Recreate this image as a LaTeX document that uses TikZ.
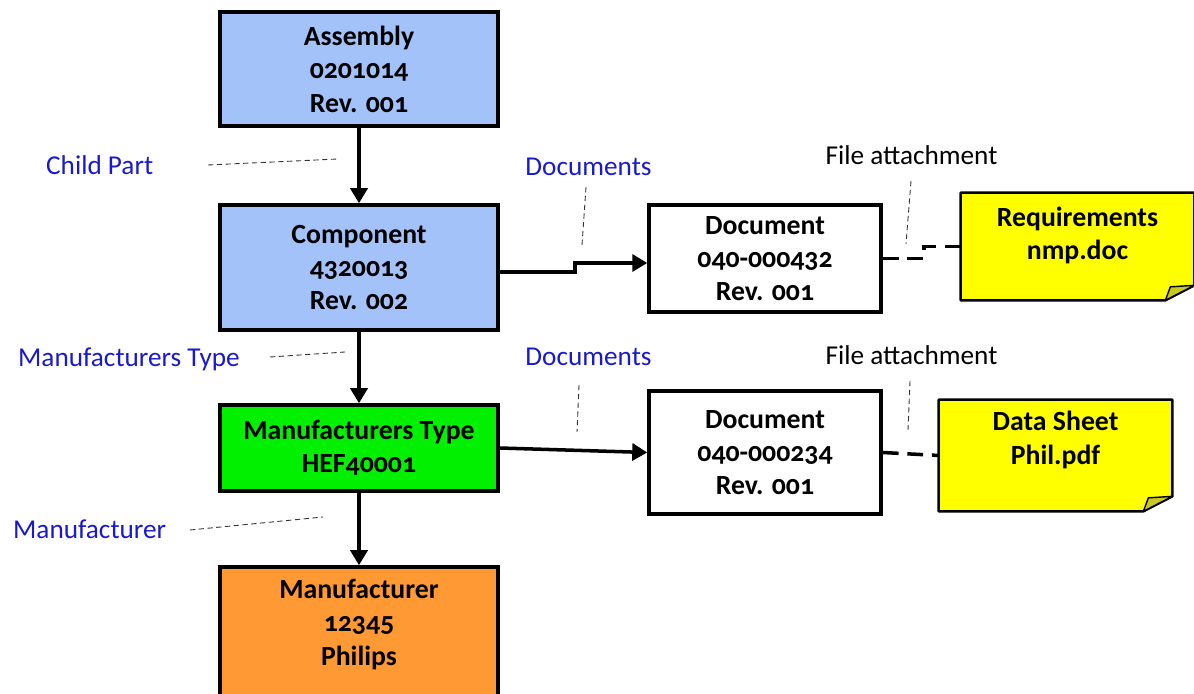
\documentclass[tikz,border=0pt]{standalone}
\usepackage{fontspec}
\setmainfont{Carlito}[Numbers=OldStyle]
\usetikzlibrary{arrows.meta, backgrounds}
\definecolor{azzurro}{RGB}{164,194,250}
\definecolor{verde}{RGB}{0,240,0}
\definecolor{arancio}{RGB}{255,153,51}
\definecolor{giallo}{RGB}{255,255,0}
\definecolor{piega}{RGB}{200,200,30}
\definecolor{blutesto}{RGB}{25,25,205}
\tikzset{
  parte/.style = {draw, line width=2pt, minimum width=5.56cm, align=center, inner sep=2pt, font=\bfseries\fontsize{15.8}{19}\selectfont},
  documento/.style = {parte, fill=white, minimum width=4.64cm},
  allegato/.style = {align=center, minimum width=4.66cm, inner sep=2pt, font=\bfseries\fontsize{15.8}{19}\selectfont},
  freccia/.style = {line width=2pt, -{Triangle[width=0.34cm,length=0.3cm]}},
  collega/.style = {line width=2pt, dash pattern=on 9pt off 5pt},
  richiamo/.style = {line width=0.5pt, black!80, dash pattern=on 3pt off 2pt},
  etichetta/.style = {text=blutesto, font=\fontsize{15.5}{18}\selectfont},
  nota/.style = {font=\fontsize{15.5}{18}\selectfont}
}
% foglio giallo con angolo piegato
\newcommand{\foglio}[1]{
  \filldraw[fill=giallo, line width=1.4pt, line join=round] (#1.north west) -- (#1.north east) -- ([yshift=0.3cm]#1.south east) -- ([xshift=-0.58cm]#1.south east) -- (#1.south west) -- cycle;
  \filldraw[fill=piega, line width=0.8pt, line join=round] ([xshift=-0.58cm]#1.south east) .. controls ([xshift=-0.54cm,yshift=0.14cm]#1.south east) .. ([xshift=-0.48cm,yshift=0.27cm]#1.south east) -- ([yshift=0.3cm]#1.south east) -- cycle;
}

\begin{document}
\begin{tikzpicture}
    % Parametri
    \pgfmathsetmacro{\larg}{23.88}
    \pgfmathsetmacro{\alt}{13.86}
    \useasboundingbox (0,0) rectangle (\larg,\alt);
    \clip (0,0) rectangle (\larg,\alt);
    % Parti
    \node[parte, fill=azzurro, minimum height=2.28cm] (assieme) at (7.18,12.48) {Assembly\\0201014\\Rev. 001};
    \node[parte, fill=azzurro, minimum height=2.50cm] (componente) at (7.18,8.51) {Component\\4320013\\Rev. 002};
    \node[parte, fill=verde, minimum height=1.72cm] (tipo) at (7.18,4.90) {Manufacturers Type\\HEF40001};
    \node[parte, fill=arancio, minimum height=2.8cm, text depth=17pt] (produttore) at (7.18,1.12) {Manufacturer\\12345\\Philips};
    % Documenti
    \node[documento, minimum height=2.14cm] (doc1) at (15.30,8.69) {Document\\040-000432\\Rev. 001};
    \node[documento, minimum height=2.46cm] (doc2) at (15.30,4.81) {Document\\040-000234\\Rev. 001};
    % Allegati
    \node[allegato, minimum height=2.14cm, text depth=15pt] (requisiti) at (21.55,8.93) {Requirements\\nmp.doc};
    \node[allegato, minimum height=2.22cm, text depth=20pt] (scheda) at (21.11,4.75) {Data Sheet\\Phil.pdf};
    \begin{scope}[on background layer]
        \foglio{requisiti}
        \foglio{scheda}
    \end{scope}
    % Collegamenti
    \draw[freccia] (assieme) -- (componente);
    \draw[freccia] (componente) -- (tipo);
    \draw[freccia] (tipo) -- (produttore);
    \draw[freccia] ([yshift=-0.9mm]componente.east) -- ++(1.5,0) |- ([yshift=-0.9mm]doc1.west);
    \draw[freccia] (tipo.east) -- (doc2.west);
    \draw[collega] (doc1.east) -- ++(0.82,0) |- (requisiti.west);
    \draw[collega] (doc2.east) -- (scheda.west);
    % Etichette
    \node[etichetta, anchor=west] (lfiglio) at (0.8,10.56) {Child Part};
    \node[etichetta, anchor=west] (ltipo) at (0.24,6.68) {Manufacturers Type};
    \node[etichetta, anchor=west] (lprod) at (0.14,3.28) {Manufacturer};
    \node[etichetta] (ldoc1) at (11.77,10.52) {Documents};
    \node[etichetta] (ldoc2) at (11.77,6.72) {Documents};
    \node[nota] (lfile1) at (18.23,10.76) {File attachment};
    \node[nota] (lfile2) at (18.23,6.76) {File attachment};
    % Richiami
    \draw[richiamo] (4.16,10.56) -- (6.76,10.68);
    \draw[richiamo] (5.40,6.72) -- (6.90,6.82);
    \draw[richiamo] (3.80,3.26) -- (6.46,3.52);
    \draw[richiamo] (11.72,10.12) -- (11.64,8.96);
    \draw[richiamo] (11.58,6.16) -- (11.54,5.22);
    \draw[richiamo] (18.22,10.24) -- (18.12,8.98);
    \draw[richiamo] (18.20,6.24) -- (18.16,5.26);
\end{tikzpicture}
\end{document}
